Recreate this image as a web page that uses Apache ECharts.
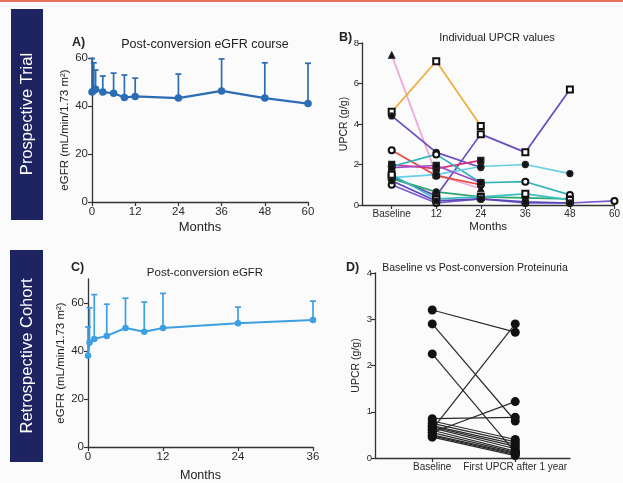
<!DOCTYPE html>
<html><head><meta charset="utf-8">
<script src="https://cdn.jsdelivr.net/npm/echarts@6/dist/echarts.min.js"></script>
<style>html,body{margin:0;padding:0;background:#fbfbfb;}#c{width:623px;height:483px;}</style>
</head><body><div id="c"></div>
<script>
// Panel A: prospective trial eGFR
var aMonths = [0, 0.5, 1, 3, 6, 9, 12, 24, 36, 48, 60];
var aMean   = [45.8, 46.5, 47, 45.8, 45.3, 43.5, 44, 43.3, 46.3, 43.3, 41];
var aUpper  = [59.8, 58, 55, 52.5, 53.7, 52.9, 51.6, 53.3, 59.6, 58, 57.8];
var aTicksX = [0, 12, 24, 36, 48, 60];
var aTicksY = [0, 20, 40, 60];

// Panel C: retrospective cohort eGFR
var cMonths = [0, 0.25, 1, 3, 6, 9, 12, 24, 36];
var cMean   = [38, 43.5, 45, 46.3, 49.6, 48, 49.6, 51.6, 52.9];
var cUpper  = [50, 58, 63.5, 59.5, 62, 60.4, 64, 58.3, 60.8];
var cTicksX = [0, 12, 24, 36];
var cTicksY = [0, 20, 40, 60];

// Panel B: individual UPCR values (months: Baseline, 12, 24, 36, 48, 60)
var bMonths = [0, 12, 24, 36, 48, 60];
var bTickLabels = ['Baseline', '12', '24', '36', '48', '60'];
var bP1  = [7.4, 1.5, 0.8, null, null, null];
var bP2  = [4.6, 7.1, 3.9, null, null, null];
var bP3  = [4.4, 2.6, 1.85, null, null, null];
var bP4  = [1.4, 0.45, 3.5, 2.6, 5.7, null];
var bP5  = [1.0, 0.1, 0.3, 0.1, 0.1, 0.2];
var bP6  = [2.7, 1.45, 1.0, null, null, null];
var bP7  = [2.0, 1.8, 2.2, null, null, null];
var bP8  = [1.9, 2.5, 1.1, 1.15, 0.5, null];
var bP9  = [1.35, 1.5, 1.9, 2.0, 1.55, null];
var bP10 = [1.3, 0.65, 0.4, 0.35, 0.3, null];
var bP11 = [1.85, 1.95, 1.1, null, null, null];
var bP12 = [1.5, 0.3, 0.4, 0.55, 0.25, null];
var bP13 = [1.2, 0.2, 0.3, 0.15, 0.1, null];
var bTicksY = [0, 2, 4, 6, 8];

// Panel D: baseline vs first UPCR after 1 year
var dBaseline = [3.2, 2.9, 2.25, 0.62, 0.85, 0.55, 0.8, 0.75, 0.7, 0.68, 0.65, 0.6, 0.55, 0.5, 0.48, 0.45];
var dAfter    = [2.72, 0.8, 0.12, 2.9, 0.88, 1.22, 0.4, 0.35, 0.3, 0.25, 0.2, 0.15, 0.12, 0.1, 0.08, 0.05];
var dTicksY = [0, 1, 2, 3, 4];
var dCats = ['Baseline', 'First UPCR after 1 year'];

var FONT = 'Liberation Sans, Arial, sans-serif';
var AX = '#333';

function zip2(xs, ys){ var o=[]; for (var i=0;i<xs.length;i++){ if (ys[i]!==null) o.push([xs[i], ys[i]]); } return o; }
function zip3(xs, ys, zs){ var o=[]; for (var i=0;i<xs.length;i++) o.push([xs[i], ys[i], zs[i]]); return o; }

function errRender(color){
  return function(params, api){
    var x = api.value(0), v = api.value(1), u = api.value(2);
    var p0 = api.coord([x, v]), p1 = api.coord([x, u]);
    var w = 3;
    return {type:'group', children:[
      {type:'line', shape:{x1:p0[0],y1:p0[1],x2:p1[0],y2:p1[1]}, style:{stroke:color, lineWidth:1.7}},
      {type:'line', shape:{x1:p1[0]-w,y1:p1[1],x2:p1[0]+w,y2:p1[1]}, style:{stroke:color, lineWidth:1.7}}
    ]};
  };
}

function valAxis(opts){
  var base = {
    type:'value', splitLine:{show:false},
    axisLine:{show:true, onZero:false, lineStyle:{color:AX, width:1.3}},
    axisTick:{show:true, length:4, lineStyle:{color:AX, width:1.2}},
    axisLabel:{color:'#2a2a2a', fontSize:11.5, fontFamily:FONT, margin:4},
    nameTextStyle:{color:'#222', fontSize:12, fontFamily:FONT},
    nameLocation:'middle'
  };
  for (var k in opts){
    if (typeof opts[k]==='object' && !Array.isArray(opts[k]) && base[k] && typeof base[k]==='object'){
      base[k] = Object.assign({}, base[k], opts[k]);
    } else base[k] = opts[k];
  }
  return base;
}

var colA = '#2b6cb3', colC = '#3d9fe2';

var bLines = [
  {d:bP1, c:'#f0a6d6', s:'triangle'},
  {d:bP2, c:'#f2ac3a', s:'emptyRect'},
  {d:bP3, c:'#6a4cc0', s:'circle'},
  {d:bP4, c:'#6a4cc0', s:'emptyRect'},
  {d:bP5, c:'#7a58d0', s:'emptyCircle'},
  {d:bP6, c:'#e8483c', s:'emptyCircle'},
  {d:bP7, c:'#d8347e', s:'rect'},
  {d:bP8, c:'#2fb3b8', s:'emptyCircle'},
  {d:bP9, c:'#66cfe6', s:'circle'},
  {d:bP10, c:'#2fa574', s:'circle'},
  {d:bP11, c:'#9a4cc8', s:'rect'},
  {d:bP12, c:'#3cc0c0', s:'emptyRect'},
  {d:bP13, c:'#5b46b8', s:'circle'}
];

var series = [];
// A
series.push({type:'custom', xAxisIndex:0, yAxisIndex:0, renderItem:errRender(colA), data:zip3(aMonths,aMean,aUpper), z:2, silent:true});
series.push({type:'line', xAxisIndex:0, yAxisIndex:0, data:zip2(aMonths,aMean), symbol:'circle', symbolSize:7.5,
  lineStyle:{color:colA, width:2.2}, itemStyle:{color:colA}, z:3});
// C
series.push({type:'custom', xAxisIndex:1, yAxisIndex:1, renderItem:errRender(colC), data:zip3(cMonths,cMean,cUpper), z:2, silent:true});
series.push({type:'line', xAxisIndex:1, yAxisIndex:1, data:zip2(cMonths,cMean), symbol:'circle', symbolSize:6.5,
  lineStyle:{color:colC, width:2}, itemStyle:{color:colC}, z:3});
// B
bLines.forEach(function(l){
  series.push({type:'line', xAxisIndex:2, yAxisIndex:2, data:zip2(bMonths,l.d), symbol:l.s, symbolSize:6,
    lineStyle:{color:l.c, width:1.7}, itemStyle:{color:'#111', borderColor:'#222', borderWidth:1.3}, z:3});
});
// D
for (var i=0;i<dBaseline.length;i++){
  series.push({type:'line', xAxisIndex:3, yAxisIndex:3, data:[[1,dBaseline[i]],[2,dAfter[i]]], symbol:'circle', symbolSize:9,
    lineStyle:{color:'#2a2a2a', width:1.2}, itemStyle:{color:'#111'}, z:3});
}

var titleStyle = {fontFamily:FONT, fontSize:12.5, fontWeight:'normal', color:'#222'};
var letterStyle = {fontFamily:FONT, fontSize:12.5, fontWeight:'bold', color:'#222'};

var option = {
  backgroundColor:'#fbfbfb',
  animation:false,
  title:[
    {text:'A)', left:67, top:31, textStyle:letterStyle},
    {text:'Post-conversion eGFR course', left:200, top:33, textAlign:'center', textStyle:titleStyle},
    {text:'B)', left:334, top:26, textStyle:letterStyle},
    {text:'Individual UPCR values', left:492, top:27, textAlign:'center', textStyle:Object.assign({}, titleStyle, {fontSize:11})},
    {text:'C)', left:66, top:256, textStyle:letterStyle},
    {text:'Post-conversion eGFR', left:200, top:262, textAlign:'center', textStyle:Object.assign({}, titleStyle, {fontSize:11.5})},
    {text:'D)', left:341, top:256, textStyle:letterStyle},
    {text:'Baseline vs Post-conversion Proteinuria', left:470, top:258, textAlign:'center', textStyle:Object.assign({}, titleStyle, {fontSize:10.5})}
  ],
  graphic:[
    {type:'rect', left:0, top:0, shape:{width:623, height:2}, style:{fill:'#e4705c'}},
    {type:'rect', left:11, top:9, shape:{width:32, height:211}, style:{fill:'#1e2462'}},
    {type:'text', x:27, y:114, rotation:Math.PI/2, style:{text:'Prospective Trial', fill:'#fff', font:'16.5px Liberation Sans, Arial, sans-serif', align:'center', verticalAlign:'middle'}},
    {type:'rect', left:10, top:250, shape:{width:33, height:212}, style:{fill:'#1e2462'}},
    {type:'text', x:27, y:356, rotation:Math.PI/2, style:{text:'Retrospective Cohort', fill:'#fff', font:'16.5px Liberation Sans, Arial, sans-serif', align:'center', verticalAlign:'middle'}}
  ],
  grid:[
    {left:92, top:58, right:315, bottom:281},
    {left:88, top:279, right:310, bottom:36},
    {left:362, top:43, right:3, bottom:278},
    {left:375, top:273, right:53, bottom:25}
  ],
  xAxis:[
    valAxis({gridIndex:0, min:0, max:60, interval:12, name:'Months', nameGap:19, nameTextStyle:{fontSize:13}}),
    valAxis({gridIndex:1, min:0, max:36, interval:12, name:'Months', nameGap:22, nameTextStyle:{fontSize:12.5}}),
    valAxis({gridIndex:2, min:-8, max:60, name:'Months', nameGap:16, nameTextStyle:{fontSize:11.5},
      axisTick:{customValues:bMonths}, axisLabel:{customValues:bMonths, fontSize:10, formatter:function(v){ var i=bMonths.indexOf(v); return i>=0?bTickLabels[i]:''; }}}),
    valAxis({gridIndex:3, min:0.31, max:2.66,
      axisTick:{customValues:[1,2]}, axisLabel:{customValues:[1,2], fontSize:10, formatter:function(v){ return v===1?dCats[0]:(v===2?dCats[1]:''); }}})
  ],
  yAxis:[
    valAxis({gridIndex:0, min:0, max:60, interval:20, name:'eGFR (mL/min/1.73 m\u00B2)', nameGap:17, nameTextStyle:{fontSize:11.5}}),
    valAxis({gridIndex:1, min:0, max:70,
      axisTick:{customValues:cTicksY}, axisLabel:{customValues:cTicksY},
      name:'eGFR (mL/min/1.73 m\u00B2)', nameGap:17, nameTextStyle:{fontSize:11.5}}),
    valAxis({gridIndex:2, min:0, max:8, interval:2, name:'UPCR (g/g)', nameGap:11, nameTextStyle:{fontSize:10.5},
      axisLabel:{fontSize:9.5, margin:3}}),
    valAxis({gridIndex:3, min:0, max:4, interval:1, name:'UPCR (g/g)', nameGap:13, nameTextStyle:{fontSize:10.5},
      axisLabel:{fontSize:9.5, margin:3}})
  ],
  series:series
};
var chart = echarts.init(document.getElementById('c'), null, {renderer:'canvas'});
chart.setOption(option);
</script></body></html>
